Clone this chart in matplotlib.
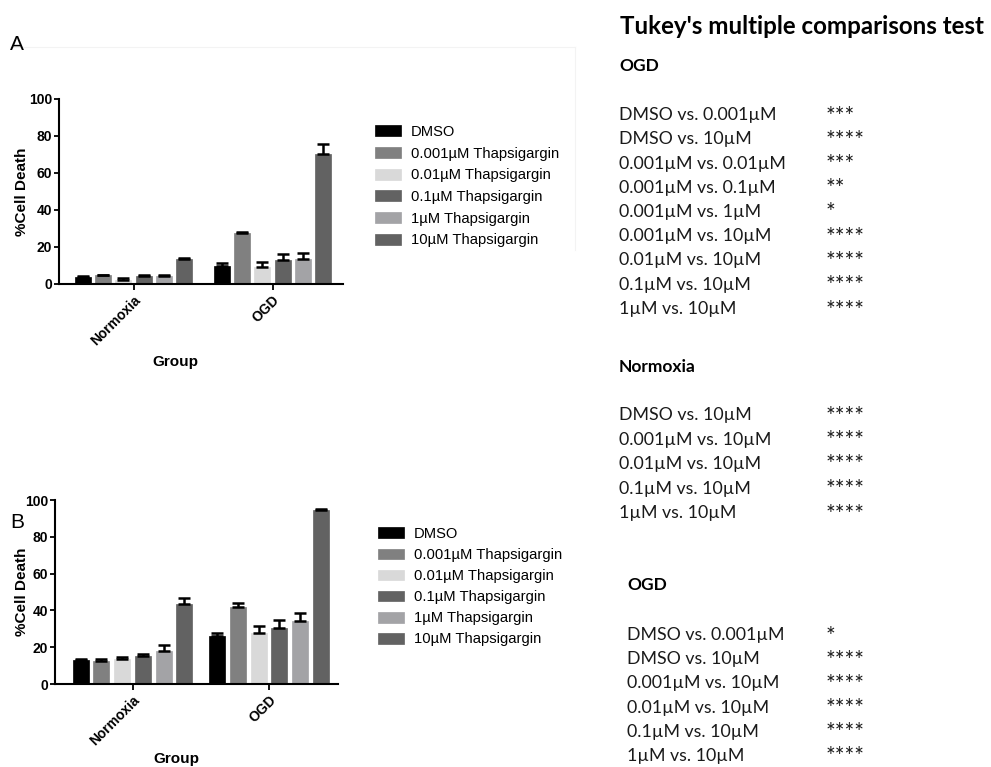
import matplotlib
matplotlib.use("Agg")
import matplotlib.pyplot as plt
from matplotlib.lines import Line2D
import numpy as np

W, H = 991, 767

groups = ["Normoxia", "OGD"]
treatments = ["DMSO", "0.001µM Thapsigargin", "0.01µM Thapsigargin",
              "0.1µM Thapsigargin", "1µM Thapsigargin", "10µM Thapsigargin"]
colors = ["#000000", "#808080", "#d9d9d9", "#626262", "#a3a3a6", "#626262"]

# Panel A: mean %cell death and upper error, one row per treatment, [Normoxia, OGD]
a_means = [[3.8, 9.7], [4.6, 27.8], [2.4, 9.2], [4.3, 12.8], [4.2, 13.4], [13.3, 70.2]]
a_errs = [[0.4, 1.7], [0.4, 0.5], [0.7, 2.7], [0.8, 3.6], [0.9, 3.4], [0.7, 5.6]]

# Panel B
b_means = [[12.9, 26.1], [12.6, 41.7], [13.8, 27.9], [15.0, 30.6], [18.1, 34.0], [43.5, 94.7]]
b_errs = [[0.5, 1.8], [1.0, 2.4], [0.7, 3.4], [1.5, 4.2], [2.9, 4.7], [3.0, 0.5]]

# Tukey's multiple comparisons
ogd_a_pairs = ["DMSO vs. 0.001µM", "DMSO vs. 10µM", "0.001µM vs. 0.01µM",
               "0.001µM vs. 0.1µM", "0.001µM vs. 1µM", "0.001µM vs. 10µM",
               "0.01µM vs. 10µM", "0.1µM vs. 10µM", "1µM vs. 10µM"]
ogd_a_stars = ["***", "****", "***", "**", "*", "****", "****", "****", "****"]
norm_b_pairs = ["DMSO vs. 10µM", "0.001µM vs. 10µM", "0.01µM vs. 10µM",
                "0.1µM vs. 10µM", "1µM vs. 10µM"]
norm_b_stars = ["****", "****", "****", "****", "****"]
ogd_b_pairs = ["DMSO vs. 0.001µM", "DMSO vs. 10µM", "0.001µM vs. 10µM",
               "0.01µM vs. 10µM", "0.1µM vs. 10µM", "1µM vs. 10µM"]
ogd_b_stars = ["*", "****", "****", "****", "****", "****"]

ARIAL = "Liberation Sans"
CAL = "Lato"

fig = plt.figure(figsize=(W / 100, H / 100), dpi=100)
fig.patch.set_facecolor("white")


def fx(x):
    return x / W


def fy(y):
    return 1 - y / H


def panel(box, means, errs, xlim, slot, width, ylab_x, xlab_xy, legend_top, legend_x, spacing):
    x0, y0, x1, y1 = box
    ax = fig.add_axes([fx(x0), fy(y1), (x1 - x0) / W, (y1 - y0) / H])
    centers = np.arange(len(groups))
    handles = []
    for i, (m, e, c, name) in enumerate(zip(means, errs, colors, treatments)):
        pos = centers + (i - 2.5) * slot
        bars = ax.bar(pos, m, width, color=c, edgecolor=c, linewidth=0.5,
                      label=name, zorder=2)
        ax.errorbar(pos, m, yerr=[np.zeros(len(e)), e], fmt="none",
                    ecolor="black", elinewidth=1.8, capsize=4.0, capthick=1.8,
                    zorder=3)
        handles.append(bars)
    ax.set_xlim(*xlim)
    ax.set_ylim(0, 100)
    ax.set_yticks(np.arange(0, 101, 20))
    ax.set_xticks(centers)
    ax.set_xticklabels(groups, rotation=45, ha="right", rotation_mode="anchor",
                       fontfamily=ARIAL, fontweight="bold", fontsize=10)
    for t in ax.get_yticklabels():
        t.set_fontfamily(ARIAL)
        t.set_fontweight("bold")
        t.set_fontsize(10)
    for s in ("top", "right"):
        ax.spines[s].set_visible(False)
    for s in ("left", "bottom"):
        ax.spines[s].set_linewidth(1.5)
    ax.tick_params(axis="y", length=3.5, width=1.3, pad=1.5)
    ax.tick_params(axis="x", length=4.5, width=1.3, pad=2)
    ax.set_ylabel("%Cell Death", fontfamily=ARIAL, fontweight="bold", fontsize=11)
    ax.yaxis.set_label_coords(ylab_x, 0.5)
    ax.set_xlabel("Group", fontfamily=ARIAL, fontweight="bold", fontsize=11)
    ax.xaxis.set_label_coords(*xlab_xy)
    fig.legend(handles=handles, loc="upper left",
               bbox_to_anchor=(fx(legend_x), fy(legend_top)),
               frameon=False, borderpad=0, borderaxespad=0,
               handlelength=1.75, handleheight=0.75, handletextpad=0.7,
               labelspacing=spacing,
               prop={"family": ARIAL, "size": 10.6})
    return ax


panel((59, 99, 343, 284), a_means, a_errs, (-0.536, 1.507), 0.145, 0.115,
      -0.105, (0.41, -0.382), 125, 375, 0.52)
panel((55, 500, 338, 684), b_means, b_errs, (-0.568, 1.505), 0.152, 0.118,
      -0.093, (0.43, -0.372), 527, 378, 0.48)

# panel letters
fig.text(fx(10), fy(45), "A", fontfamily=ARIAL, fontsize=15, va="center", ha="left")
fig.text(fx(10), fy(522), "B", fontfamily=ARIAL, fontsize=15, va="center", ha="left")

# faint frame edge around panel A
fig.add_artist(Line2D([fx(10), fx(575)], [fy(47), fy(47)], color="#f3f3f3", lw=0.8))
fig.add_artist(Line2D([fx(575), fx(575)], [fy(47), fy(250)], color="#f3f3f3", lw=0.8))

# Tukey table
fig.text(fx(620), fy(26), "Tukey's multiple comparisons test", fontfamily=CAL,
         fontweight="bold", fontsize=17.4, va="center", ha="left")

ROW_FS = 12.8
HEAD_FS = 12.5
STAR_FS = 16.5
STAR_X = 826


def block(head, head_x, head_y, first_y, step, pairs, stars):
    fig.text(fx(head_x), fy(head_y), head,
             fontfamily=CAL, fontweight="bold", fontsize=HEAD_FS,
             va="center", ha="left")
    for k, (p, s) in enumerate(zip(pairs, stars)):
        y = first_y + k * step
        fig.text(fx(head_x), fy(y), p, fontfamily=CAL, fontsize=ROW_FS,
                 va="center", ha="left", color="#1a1a1a")
        fig.text(fx(STAR_X), fy(y + 1), s, fontfamily=CAL, fontsize=STAR_FS,
                 va="center", ha="left", color="#1a1a1a")


block(groups[1], 619, 66, 115, 24.25, ogd_a_pairs, ogd_a_stars)
block(groups[0], 619, 367, 415, 24.5, norm_b_pairs, norm_b_stars)
block(groups[1], 627, 585, 635, 24.2, ogd_b_pairs, ogd_b_stars)

fig.savefig("out.png", dpi=100, facecolor="white")
